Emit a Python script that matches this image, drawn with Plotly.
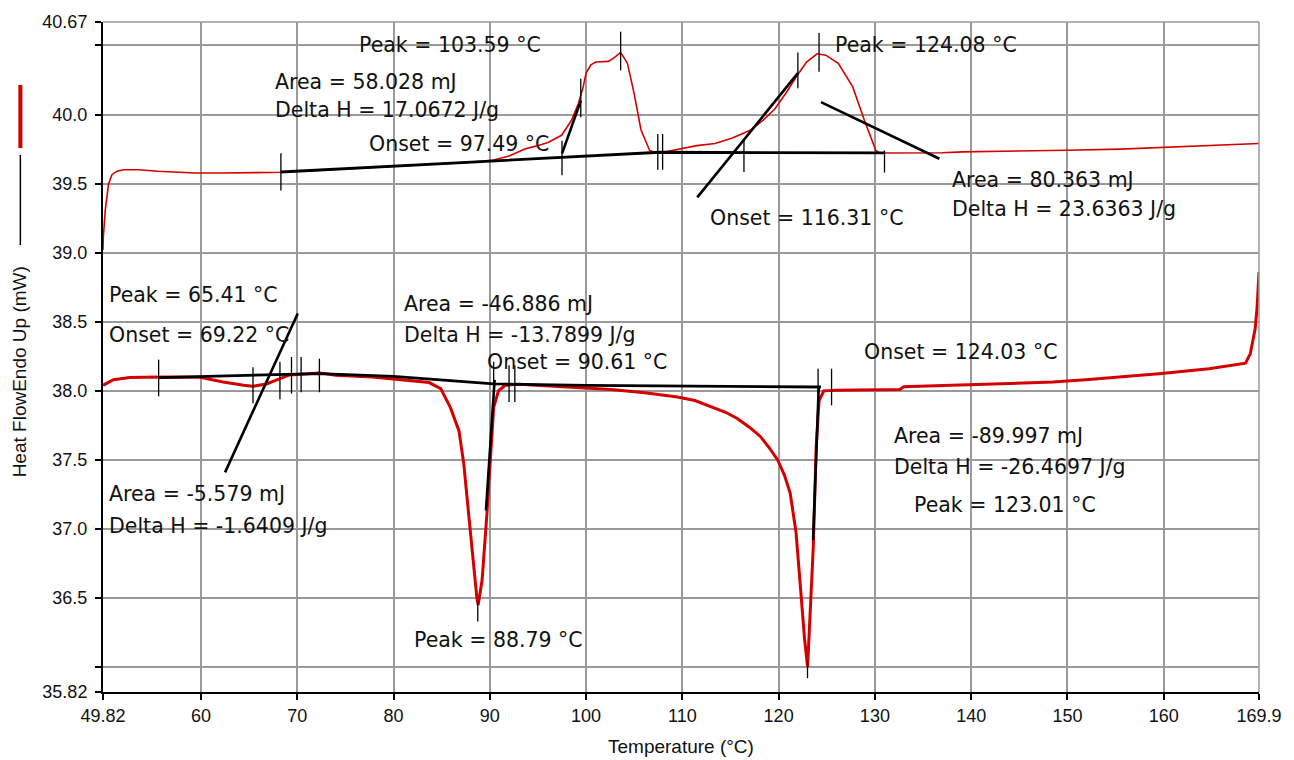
import plotly.graph_objects as go

# ---------------- data ----------------
upper_T = [49.82, 49.85, 50.06, 50.4, 50.75, 51.27, 51.95, 53.5, 55.5, 57.5, 59.4, 62.0, 66.0, 68.3,
           72.0, 76.0, 80.0, 84.0, 88.0, 90.2, 92.0, 93.7, 95.0, 96.1, 97.45, 98.5, 99.2, 99.7, 100.0,
           100.5, 101.0, 102.3, 102.8, 103.59, 104.3, 105.0, 105.7, 106.6, 107.1, 108.0, 109.7, 111.5,
           113.4, 115.2, 117.05, 118.4, 119.6, 120.8, 121.8, 122.9, 124.0, 124.9, 126.2, 127.7, 128.9,
           130.1, 130.45, 133.0, 137.0, 139.1, 145.0, 150.0, 155.5, 161.0, 166.9, 169.9]
upper_HF = [39.02, 39.11, 39.31, 39.50, 39.565, 39.59, 39.60, 39.60, 39.59, 39.583, 39.577, 39.577, 39.577, 39.582,
            39.596, 39.61, 39.625, 39.64, 39.655, 39.668, 39.70, 39.753, 39.775, 39.80, 39.85, 39.96, 40.08, 40.20, 40.30,
            40.36, 40.38, 40.385, 40.405, 40.45, 40.37, 40.15, 39.89, 39.74, 39.728, 39.727, 39.753, 39.775,
            39.79, 39.83, 39.886, 39.96, 40.04, 40.16, 40.27, 40.38, 40.44, 40.43, 40.37, 40.20, 39.96,
            39.74, 39.722, 39.722, 39.723, 39.73, 39.735, 39.742, 39.75, 39.765, 39.777, 39.79]

lower_T = [49.82, 50.9, 52.6, 55.6, 59.9, 62.3, 64.4, 65.41, 66.8, 68.2, 69.2, 72.3, 74.0, 77.8, 80.9,
           83.7, 84.9, 85.9, 86.8, 87.3, 87.8, 88.3, 88.66, 88.79, 89.2, 89.7, 90.05, 90.4, 90.9, 91.6,
           93.0, 96.0, 99.2, 102.6, 106.1, 109.5, 111.3, 112.95, 114.5, 115.7, 117.0, 118.1, 119.0, 119.9,
           120.6, 121.2, 121.8, 122.3, 122.7, 123.01, 123.3, 123.6, 123.9, 124.2, 124.7, 126.0, 132.6,
           133.0, 138.0, 143.6, 148.5, 151.9, 155.7, 159.8, 164.7, 168.5, 169.0, 169.5, 169.7, 169.9]
lower_HF = [38.04, 38.08, 38.096, 38.10, 38.098, 38.064, 38.04, 38.033, 38.05, 38.085, 38.115, 38.13, 38.113, 38.10, 38.08,
            38.06, 38.016, 37.88, 37.71, 37.47, 37.11, 36.725, 36.50, 36.45, 36.63, 37.11, 37.54, 37.88, 38.00, 38.04,
            38.047, 38.035, 38.023, 38.009, 37.987, 37.955, 37.93, 37.888, 37.845, 37.80, 37.735, 37.67, 37.59, 37.50,
            37.39, 37.26, 36.98, 36.55, 36.20, 36.00, 36.39, 36.87, 37.59, 37.93, 38.00, 38.005, 38.01,
            38.03, 38.04, 38.05, 38.064, 38.08, 38.10, 38.125, 38.16, 38.20, 38.27, 38.45, 38.60, 38.86]

# analysis baselines (temperature, heat flow)
upper_base_T = [68.3, 107.7, 131.0]
upper_base_HF = [39.584, 39.727, 39.722]
lower_base_T = [55.6, 72.3, 80.0, 90.4, 100.0, 124.4]
lower_base_HF = [38.096, 38.125, 38.105, 38.05, 38.04, 38.028]

# tangent lines: (T1, HF1, T2, HF2)
tangents = [
    (97.5, 39.717, 99.45, 40.10),
    (111.55, 39.40, 122.0, 40.30),
    (124.4, 40.09, 136.7, 39.68),
    (62.5, 37.41, 70.05, 38.56),
    (90.5, 38.08, 89.6, 37.135),
    (124.17, 38.03, 123.58, 36.92),
]

# marker ticks: (T, HF low, HF high)
marker_ticks = [
    (68.3, 39.45, 39.72), (97.5, 39.56, 39.81), (99.45, 39.98, 40.26), (103.59, 40.32, 40.60),
    (107.45, 39.60, 39.86), (107.95, 39.60, 39.86), (116.4, 39.584, 39.826), (122.0, 40.19, 40.45),
    (124.2, 40.31, 40.59), (131.0, 39.58, 39.74),
    (55.6, 37.96, 38.226), (65.4, 37.91, 38.17), (68.2, 37.94, 38.21), (69.4, 37.98, 38.245),
    (70.4, 37.99, 38.245), (72.3, 37.99, 38.233), (90.4, 38.0, 38.21), (92.0, 37.92, 38.185),
    (92.6, 37.92, 38.185), (88.75, 36.33, 36.48), (124.1, 37.895, 38.16), (125.5, 37.895, 38.16),
    (123.0, 35.92, 36.05),
]

labels = ["Peak = 103.59 °C", "Area = 58.028 mJ", "Delta H = 17.0672 J/g", "Onset = 97.49 °C",
          "Peak = 124.08 °C", "Area = 80.363 mJ", "Delta H = 23.6363 J/g", "Onset = 116.31 °C",
          "Peak = 65.41 °C", "Onset = 69.22 °C", "Area = -5.579 mJ", "Delta H = -1.6409 J/g",
          "Area = -46.886 mJ", "Delta H = -13.7899 J/g", "Onset = 90.61 °C", "Peak = 88.79 °C",
          "Onset = 124.03 °C", "Area = -89.997 mJ", "Delta H = -26.4697 J/g", "Peak = 123.01 °C"]
label_T = [76.22, 67.46, 67.46, 77.28, 125.67, 137.77, 137.77, 112.66,
           50.23, 50.23, 50.23, 50.23, 80.9, 80.9, 89.45, 81.94,
           128.64, 131.74, 131.74, 133.81]
label_HF = [40.50, 40.236, 40.036, 39.79, 40.50, 39.529, 39.319, 39.254,
            38.692, 38.402, 37.251, 37.025, 38.632, 38.402, 38.209, 36.194,
            38.281, 37.671, 37.449, 37.171]

x_ticks = [49.82, 60, 70, 80, 90, 100, 110, 120, 130, 140, 150, 160, 169.9]
x_ticktext = ["49.82", "60", "70", "80", "90", "100", "110", "120", "130", "140", "150", "160", "169.9"]
y_ticks = [35.82, 36.0, 36.5, 37.0, 37.5, 38.0, 38.5, 39.0, 39.5, 40.0, 40.5, 40.67]
y_ticktext = ["35.82", "", "36.5", "37.0", "37.5", "38.0", "38.5", "39.0", "39.5", "40.0", "", "40.67"]

# ---------------- figure ----------------
RED = "#d40000"
fig = go.Figure()
fig.add_trace(go.Scatter(x=upper_T, y=upper_HF, mode="lines", line=dict(color=RED, width=1.6),
                         showlegend=False, hoverinfo="skip"))
fig.add_trace(go.Scatter(x=lower_T, y=lower_HF, mode="lines", line=dict(color=RED, width=3),
                         showlegend=False, hoverinfo="skip"))

fig.add_trace(go.Scatter(x=upper_base_T, y=upper_base_HF, mode="lines",
                         line=dict(color="black", width=2.8), showlegend=False, hoverinfo="skip"))
fig.add_trace(go.Scatter(x=lower_base_T, y=lower_base_HF, mode="lines",
                         line=dict(color="black", width=2.8), showlegend=False, hoverinfo="skip"))

tx, ty = [], []
for a, b, c, d in tangents:
    tx += [a, c, None]
    ty += [b, d, None]
fig.add_trace(go.Scatter(x=tx, y=ty, mode="lines", line=dict(color="black", width=2.6),
                         showlegend=False, hoverinfo="skip"))

mx, my = [], []
for t, lo, hi in marker_ticks:
    mx += [t, t, None]
    my += [lo, hi, None]
fig.add_trace(go.Scatter(x=mx, y=my, mode="lines", line=dict(color="black", width=1.3),
                         showlegend=False, hoverinfo="skip"))

ANN_FONT = dict(family="DejaVu Sans", size=20.5, color="#111111")
annotations = []
for txt, t, v in zip(labels, label_T, label_HF):
    annotations.append(dict(x=t, y=v, xref="x", yref="y", text=txt, showarrow=False,
                             xanchor="left", yanchor="middle", font=ANN_FONT))

# plot-area geometry in pixels (for the axis title / legend decorations)
L, R, T, B = 103, 1264, 22, 692
def pxx(p):
    return (p - L) / (R - L)
def pxy(p):
    return (B - p) / (B - T)

AX_FONT = dict(family="Liberation Sans, Arial", size=19, color="#111111")
annotations.append(dict(x=pxx(683), y=pxy(746), xref="paper", yref="paper", text="Temperature (°C)",
                        showarrow=False, xanchor="center", yanchor="middle", font=AX_FONT))
annotations.append(dict(x=pxx(20), y=pxy(372), xref="paper", yref="paper", text="Heat FlowEndo Up (mW)",
                        showarrow=False, xanchor="center", yanchor="middle", textangle=-90, font=AX_FONT))

shapes = [
    dict(type="line", xref="paper", yref="paper", x0=pxx(20), x1=pxx(20), y0=pxy(85), y1=pxy(148),
         line=dict(color=RED, width=4)),
    dict(type="line", xref="paper", yref="paper", x0=pxx(20), x1=pxx(20), y0=pxy(155), y1=pxy(245),
         line=dict(color="black", width=1.5)),
    dict(type="line", xref="paper", yref="paper", x0=0, x1=1, y0=1, y1=1,
         line=dict(color="#9a9a9a", width=1.5)),
    dict(type="line", xref="paper", yref="paper", x0=1, x1=1, y0=0, y1=1,
         line=dict(color="#9a9a9a", width=1.5)),
]

TICK_FONT = dict(family="Liberation Sans, Arial", size=18, color="#111111")
fig.update_layout(
    width=1294, height=760,
    margin=dict(l=L, r=1294 - R, t=T, b=760 - B),
    paper_bgcolor="white", plot_bgcolor="white",
    showlegend=False,
    annotations=annotations, shapes=shapes,
    xaxis=dict(range=[49.82, 169.9], tickmode="array", tickvals=x_ticks, ticktext=x_ticktext,
               showgrid=True, gridcolor="#9a9a9a", gridwidth=1.5, zeroline=False,
               showline=True, linecolor="black", linewidth=2, ticks="outside", ticklen=6,
               tickcolor="black", tickwidth=1.5, tickfont=TICK_FONT),
    yaxis=dict(range=[35.82, 40.67], tickmode="array", tickvals=y_ticks, ticktext=y_ticktext,
               showgrid=True, gridcolor="#9a9a9a", gridwidth=1.5, zeroline=False,
               showline=True, linecolor="black", linewidth=2, ticks="outside", ticklen=6,
               tickcolor="black", tickwidth=1.5, tickfont=TICK_FONT, ticklabelstandoff=4),
)

fig.write_html("out.html")
